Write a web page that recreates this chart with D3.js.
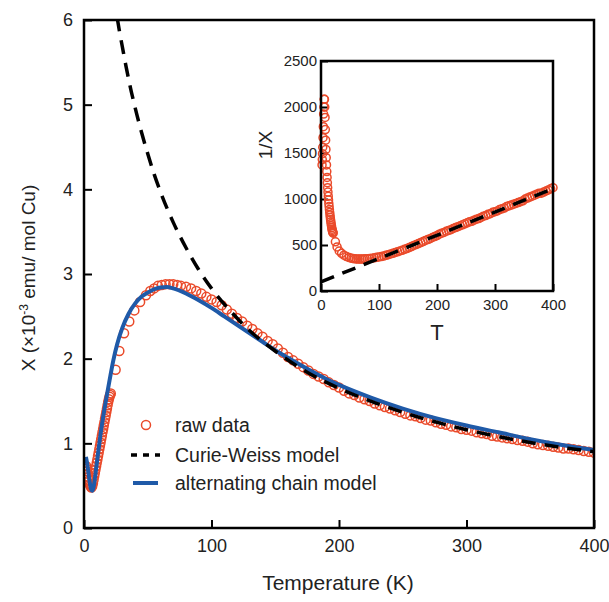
<!DOCTYPE html>
<html lang="en">
<head>
  <meta charset="UTF-8" />
  <title>Susceptibility vs temperature</title>
  <script src="https://d3js.org/d3.v7.min.js"></script>
  <style>
    body { margin: 0; background: #fff; }
    svg { font-family: "Liberation Sans", Arial, sans-serif; }
    .frame { fill: none; stroke: #000; stroke-width: 2.5px; }
    .tick line { stroke: #000; stroke-width: 2px; }
    .raw { fill: none; stroke: #ea4a2a; stroke-width: 1.5px; }
    .chain { fill: none; stroke: #1f5aa8; stroke-width: 4px; }
    .cw { fill: none; stroke: #000; stroke-width: 3.5px; stroke-dasharray: 14 9; }
  </style>
</head>
<body>
  <svg width="609" height="602"></svg>
  <script>
    // raw data: temperature (K) and chi (x10^-3 emu / mol Cu)
    const rawT = [1.8, 2.2, 2.6, 3.0, 3.5, 4.0, 4.5, 5.0, 5.5, 6.0, 6.5, 7.0, 7.5, 8.0, 8.5, 9, 9.5, 10, 10.5, 11,
      11.5, 12, 12.5, 13, 13.5, 14, 14.5, 15, 15.5, 16, 16.5, 17, 17.5, 18, 18.5, 19, 19.5, 20, 20.5, 21,
      24.8, 27.7, 31.4, 35.5, 39.5, 44, 48.6, 52, 55, 58, 61, 64, 67, 70, 73, 76, 80,
      84, 88, 92, 96, 100, 104, 108, 112, 116, 120, 124, 128, 132, 136, 140, 144, 148, 152, 156, 160,
      164, 168, 172, 176, 180, 184, 188, 192, 196, 200, 204, 208, 212, 216, 220, 224, 228, 232, 236, 240,
      244, 248, 252, 256, 260, 264, 268, 272, 276, 280, 284, 288, 292, 296, 300, 304, 308, 312, 316, 320,
      324, 328, 332, 336, 340, 344, 348, 352, 356, 360, 364, 368, 372, 376, 380, 384, 388, 392, 396, 400];
    const rawChi = [0.73, 0.70, 0.67, 0.64, 0.60, 0.56, 0.52, 0.50, 0.48, 0.48, 0.50, 0.53, 0.57, 0.61, 0.65, 0.69, 0.73, 0.77, 0.81, 0.85,
      0.89, 0.93, 0.97, 1.01, 1.05, 1.09, 1.13, 1.17, 1.21, 1.25, 1.29, 1.33, 1.37, 1.41, 1.45, 1.49, 1.52, 1.55, 1.57, 1.59,
      1.87, 2.09, 2.30, 2.44, 2.57, 2.67, 2.75, 2.80, 2.83, 2.86, 2.87, 2.88, 2.88, 2.88, 2.87, 2.86, 2.85,
      2.83, 2.80, 2.77, 2.73, 2.70, 2.67, 2.63, 2.58, 2.53, 2.48, 2.44, 2.39, 2.35, 2.30, 2.26, 2.21, 2.17, 2.12, 2.07, 2.02,
      1.98, 1.94, 1.90, 1.86, 1.82, 1.79, 1.76, 1.72, 1.69, 1.66, 1.62, 1.59, 1.57, 1.54, 1.52, 1.50, 1.47, 1.45, 1.43, 1.41,
      1.39, 1.37, 1.35, 1.33, 1.32, 1.30, 1.28, 1.27, 1.25, 1.23, 1.22, 1.20, 1.19, 1.17, 1.16, 1.15, 1.13, 1.12, 1.11, 1.09,
      1.08, 1.07, 1.06, 1.05, 1.04, 1.03, 1.02, 1.00, 0.99, 0.98, 0.97, 0.96, 0.95, 0.94, 0.94, 0.93, 0.92, 0.91, 0.90, 0.89];

    // alternating chain model
    const chainT = [1.5, 2.5, 3.5, 4.5, 5.5, 6.5, 7.5, 8.5, 9.5, 11, 13, 15, 17, 20, 23, 26, 30, 35, 40, 45, 50, 55, 60, 65, 70,
      80, 90, 100, 110, 120, 130, 140, 150, 160, 175, 190, 200, 225, 250, 275, 300, 325, 350, 375, 400];
    const chainChi = [0.84, 0.76, 0.65, 0.54, 0.46, 0.44, 0.48, 0.58, 0.70, 0.88, 1.11, 1.31, 1.49, 1.74, 1.98, 2.17, 2.36, 2.53, 2.65, 2.73, 2.78, 2.82, 2.84, 2.845, 2.83,
      2.77, 2.69, 2.60, 2.50, 2.40, 2.30, 2.20, 2.10, 2.01, 1.88, 1.76, 1.69, 1.54, 1.41, 1.30, 1.21, 1.13, 1.05, 0.98, 0.92];

    // Curie-Weiss model
    const cwT = [26, 28, 30, 33, 36, 40, 45, 50, 55, 60, 70, 80, 90, 100, 115, 130, 150, 175, 200, 230, 260, 300, 350, 400];
    const cwChi = [6.03, 5.85, 5.69, 5.45, 5.23, 4.97, 4.68, 4.42, 4.18, 3.97, 3.61, 3.31, 3.05, 2.83, 2.56, 2.33, 2.09, 1.84, 1.65, 1.47, 1.32, 1.16, 1.01, 0.90];

    // inset: Curie-Weiss line in 1/chi
    const insetCwT = [0, 400];
    const insetCwInv = [100, 1112];

    const xTicks = [0, 100, 200, 300, 400];
    const yTicks = [0, 1, 2, 3, 4, 5, 6];
    const insetXTicks = [0, 100, 200, 300, 400];
    const insetYTicks = [0, 500, 1000, 1500, 2000, 2500];

    const fmt = d3.format("d");
    const svg = d3.select("svg");
    svg.append("rect").attr("width", 609).attr("height", 602).attr("fill", "#fff");

    const x = d3.scaleLinear().domain([0, 400]).range([84, 594]);
    const y = d3.scaleLinear().domain([0, 6]).range([528, 20]);

    svg.append("defs").append("clipPath").attr("id", "clipMain")
      .append("rect").attr("x", 84).attr("y", 20).attr("width", 510).attr("height", 508);

    // axes (ticks pointing inward)
    const xAxis = svg.append("g").attr("transform", "translate(0,528)")
      .call(d3.axisBottom(x).tickValues(xTicks).tickFormat(fmt).tickSizeInner(-8).tickSizeOuter(0).tickPadding(11));
    const yAxis = svg.append("g").attr("transform", "translate(84,0)")
      .call(d3.axisLeft(y).tickValues(yTicks).tickFormat(fmt).tickSizeInner(-8).tickSizeOuter(0).tickPadding(11));
    [xAxis, yAxis].forEach(g => {
      g.select(".domain").remove();
      g.selectAll("text").attr("font-size", 18).attr("fill", "#222").style("font-family", "Liberation Sans, Arial, sans-serif");
    });

    const plot = svg.append("g").attr("clip-path", "url(#clipMain)");

    const raw = rawT.map((t, i) => [t, rawChi[i]]);
    plot.selectAll("circle.raw").data(raw).enter().append("circle")
      .attr("class", "raw")
      .attr("cx", d => x(d[0]))
      .attr("cy", d => y(d[1]))
      .attr("r", 4.5);

    const line = d3.line().x(d => x(d[0])).y(d => y(d[1])).curve(d3.curveMonotoneX);
    plot.append("path").attr("class", "chain")
      .attr("d", line(chainT.map((t, i) => [t, chainChi[i]])));
    plot.append("path").attr("class", "cw")
      .attr("d", line(cwT.map((t, i) => [t, cwChi[i]])));

    svg.append("rect").attr("class", "frame").attr("x", 84).attr("y", 20).attr("width", 510).attr("height", 508);

    // axis titles
    svg.append("text").attr("x", 338).attr("y", 590).attr("text-anchor", "middle")
      .attr("font-size", 21).attr("fill", "#222").text("Temperature (K)");
    const yt = svg.append("text").attr("transform", "translate(35,278) rotate(-90)")
      .attr("text-anchor", "middle").attr("font-size", 19).attr("fill", "#222");
    yt.append("tspan").text("Χ (×10");
    yt.append("tspan").attr("dy", -7).attr("font-size", 12).text("-3");
    yt.append("tspan").attr("dy", 7).text(" emu/ mol Cu)");

    // legend
    const legend = svg.append("g");
    legend.append("circle").attr("class", "raw").attr("cx", 146).attr("cy", 425).attr("r", 4.5);
    legend.append("line").attr("x1", 131).attr("x2", 160).attr("y1", 455).attr("y2", 455)
      .attr("stroke", "#000").attr("stroke-width", 3.5).attr("stroke-dasharray", "6 6");
    legend.append("line").attr("class", "chain").attr("x1", 133).attr("x2", 158).attr("y1", 483).attr("y2", 483)
      .attr("stroke-width", 3);
    const labels = ["raw data", "Curie-Weiss model", "alternating chain model"];
    legend.selectAll("text").data(labels).enter().append("text")
      .attr("x", 175).attr("y", (d, i) => [425, 455, 483][i])
      .attr("dy", "0.35em").attr("font-size", 19.5).attr("fill", "#222").text(d => d);

    // inset
    const ix = d3.scaleLinear().domain([0, 400]).range([321, 553]);
    const iy = d3.scaleLinear().domain([0, 2500]).range([291, 61]);
    const inset = svg.append("g");
    inset.append("rect").attr("x", 321).attr("y", 61).attr("width", 232).attr("height", 230).attr("fill", "#fff");

    const ixAxis = inset.append("g").attr("transform", "translate(0,291)")
      .call(d3.axisBottom(ix).tickValues(insetXTicks).tickFormat(fmt).tickSizeInner(-7).tickSizeOuter(0).tickPadding(8));
    const iyAxis = inset.append("g").attr("transform", "translate(321,0)")
      .call(d3.axisLeft(iy).tickValues(insetYTicks).tickFormat(fmt).tickSizeInner(-7).tickSizeOuter(0).tickPadding(4));
    [ixAxis, iyAxis].forEach(g => {
      g.select(".domain").remove();
      g.selectAll("text").attr("font-size", 15).attr("fill", "#222").style("font-family", "Liberation Sans, Arial, sans-serif");
    });

    inset.selectAll("circle.raw").data(raw).enter().append("circle")
      .attr("class", "raw")
      .attr("cx", d => ix(d[0]))
      .attr("cy", d => iy(1000 / d[1]))
      .attr("r", 4);
    inset.append("path").attr("class", "cw").attr("stroke-dasharray", "14 10")
      .attr("d", d3.line().x(d => ix(d[0])).y(d => iy(d[1]))(insetCwT.map((t, i) => [t, insetCwInv[i]])));

    inset.append("rect").attr("class", "frame").attr("x", 321).attr("y", 61).attr("width", 232).attr("height", 230);

    inset.append("text").attr("x", 437).attr("y", 340).attr("text-anchor", "middle")
      .attr("font-size", 22).attr("fill", "#222").text("T");
    inset.append("text").attr("transform", "translate(272,145) rotate(-90)")
      .attr("text-anchor", "middle").attr("font-size", 19).attr("fill", "#222").text("1/Χ");
  </script>
</body>
</html>
